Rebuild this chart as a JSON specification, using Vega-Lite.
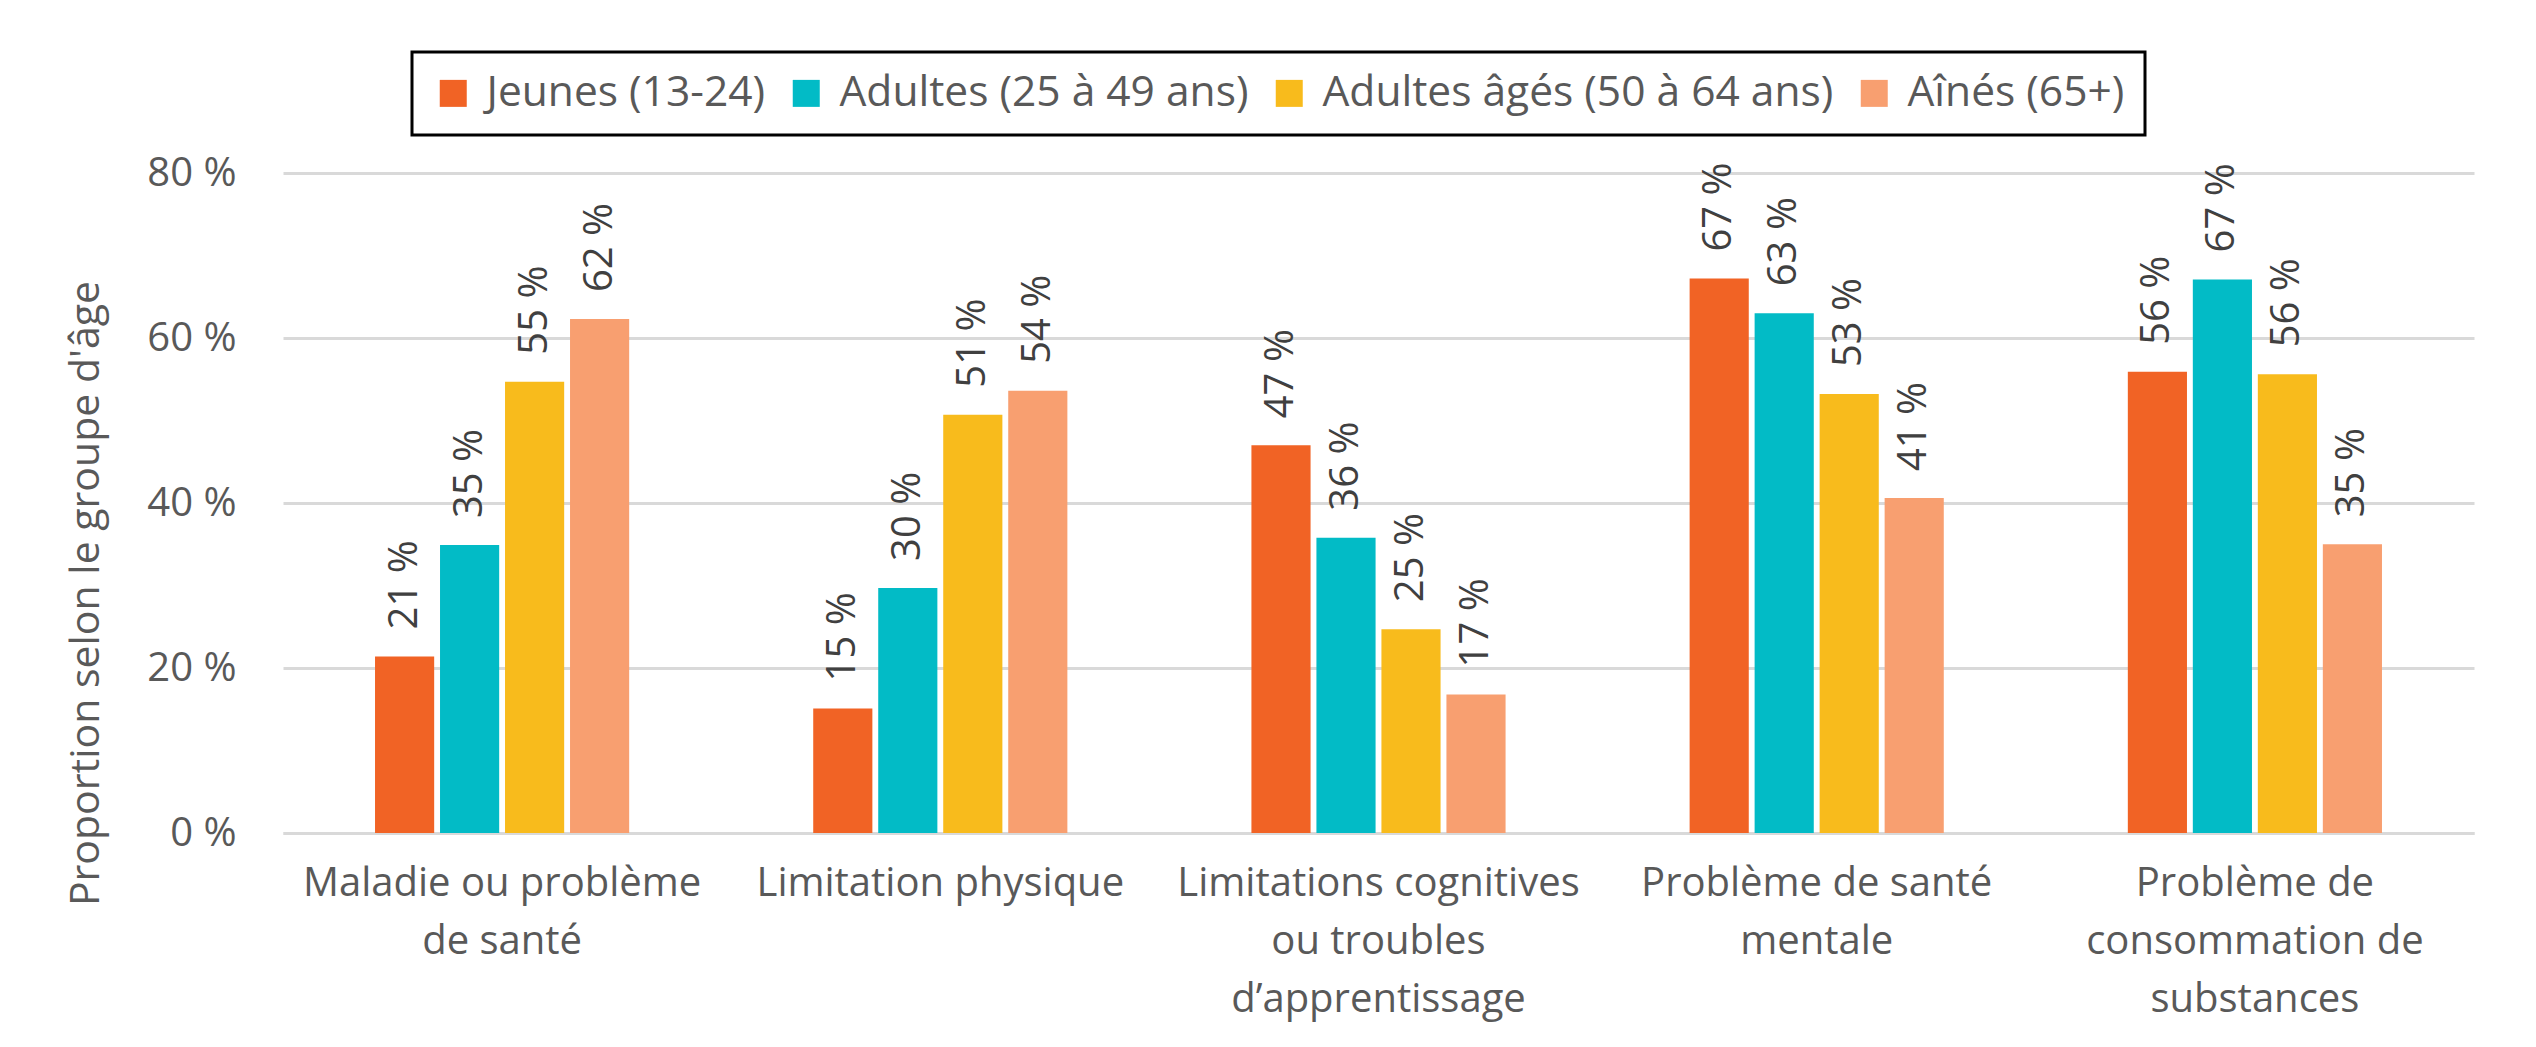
{
  "$schema": "https://vega.github.io/schema/vega-lite/v6.json",
  "autosize": "none",
  "width": 2191,
  "height": 660,
  "padding": {"left": 283, "top": 173, "right": 62, "bottom": 214},
  "background": "white",
  "data": {
    "values": [
      {"cat": "Maladie ou problème de santé", "groupe": "Jeunes (13-24)", "value": 21.4},
      {"cat": "Maladie ou problème de santé", "groupe": "Adultes (25 à 49 ans)", "value": 34.9},
      {"cat": "Maladie ou problème de santé", "groupe": "Adultes âgés (50 à 64 ans)", "value": 54.7},
      {"cat": "Maladie ou problème de santé", "groupe": "Aînés (65+)", "value": 62.3},
      {"cat": "Limitation physique", "groupe": "Jeunes (13-24)", "value": 15.1},
      {"cat": "Limitation physique", "groupe": "Adultes (25 à 49 ans)", "value": 29.7},
      {"cat": "Limitation physique", "groupe": "Adultes âgés (50 à 64 ans)", "value": 50.7},
      {"cat": "Limitation physique", "groupe": "Aînés (65+)", "value": 53.6},
      {"cat": "Limitations cognitives ou troubles d’apprentissage", "groupe": "Jeunes (13-24)", "value": 47.0},
      {"cat": "Limitations cognitives ou troubles d’apprentissage", "groupe": "Adultes (25 à 49 ans)", "value": 35.8},
      {"cat": "Limitations cognitives ou troubles d’apprentissage", "groupe": "Adultes âgés (50 à 64 ans)", "value": 24.7},
      {"cat": "Limitations cognitives ou troubles d’apprentissage", "groupe": "Aînés (65+)", "value": 16.8},
      {"cat": "Problème de santé mentale", "groupe": "Jeunes (13-24)", "value": 67.2},
      {"cat": "Problème de santé mentale", "groupe": "Adultes (25 à 49 ans)", "value": 63.0},
      {"cat": "Problème de santé mentale", "groupe": "Adultes âgés (50 à 64 ans)", "value": 53.2},
      {"cat": "Problème de santé mentale", "groupe": "Aînés (65+)", "value": 40.6},
      {"cat": "Problème de consommation de substances", "groupe": "Jeunes (13-24)", "value": 55.9},
      {"cat": "Problème de consommation de substances", "groupe": "Adultes (25 à 49 ans)", "value": 67.1},
      {"cat": "Problème de consommation de substances", "groupe": "Adultes âgés (50 à 64 ans)", "value": 55.6},
      {"cat": "Problème de consommation de substances", "groupe": "Aînés (65+)", "value": 35.0}
    ]
  },
  "transform": [
    {"calculate": "format(datum.value, '.0f') + ' %'", "as": "lbl"}
  ],
  "encoding": {
    "x": {
      "field": "cat",
      "type": "nominal",
      "sort": null,
      "scale": {"paddingInner": 0.42, "paddingOuter": 0.21},
      "axis": {
        "title": null,
        "labelAngle": 0,
        "labelFontSize": 40,
        "labelColor": "#595959",
        "labelLineHeight": 58,
        "labelPadding": 30,
        "labelBaseline": "top",
        "labelLimit": 800,
        "domainColor": "#d9d9d9",
        "domainWidth": 3,
        "ticks": false,
        "labelExpr": "datum.value == 'Maladie ou problème de santé' ? ['Maladie ou problème', 'de santé'] : datum.value == 'Limitations cognitives ou troubles d’apprentissage' ? ['Limitations cognitives', 'ou troubles', 'd’apprentissage'] : datum.value == 'Problème de santé mentale' ? ['Problème de santé', 'mentale'] : datum.value == 'Problème de consommation de substances' ? ['Problème de', 'consommation de', 'substances'] : datum.label"
      }
    },
    "xOffset": {
      "field": "groupe",
      "type": "nominal",
      "sort": ["Jeunes (13-24)", "Adultes (25 à 49 ans)", "Adultes âgés (50 à 64 ans)", "Aînés (65+)"],
      "scale": {"paddingInner": 0.09}
    },
    "y": {
      "field": "value",
      "type": "quantitative",
      "scale": {"domain": [0, 80]},
      "axis": {
        "title": "Proportion selon le groupe d'âge",
        "titleFontSize": 41,
        "titleFontWeight": "normal",
        "titleColor": "#595959",
        "titleAngle": 270,
        "titleX": -197,
        "titleY": 420,
        "titleAlign": "center",
        "titleBaseline": "middle",
        "values": [0, 20, 40, 60, 80],
        "labelExpr": "datum.value + ' %'",
        "labelFontSize": 40,
        "labelColor": "#595959",
        "labelPadding": 47,
        "grid": true,
        "gridColor": "#d9d9d9",
        "gridWidth": 3,
        "domain": false,
        "ticks": false
      }
    }
  },
  "layer": [
    {
      "mark": {"type": "bar"},
      "encoding": {
        "color": {
          "field": "groupe",
          "type": "nominal",
          "scale": {
            "domain": ["Jeunes (13-24)", "Adultes (25 à 49 ans)", "Adultes âgés (50 à 64 ans)", "Aînés (65+)"],
            "range": ["#F16325", "#02BBC6", "#F8BB1C", "#F89F70"]
          },
          "legend": {
            "title": null,
            "orient": "none",
            "legendX": 129,
            "legendY": -121,
            "direction": "horizontal",
            "labelFontSize": 42.5,
            "labelColor": "#595959",
            "labelLimit": 800,
            "symbolType": "square",
            "symbolSize": 729,
            "symbolStrokeWidth": 0,
            "labelOffset": 12,
            "columnPadding": 19,
            "padding": 20,
            "strokeColor": "black",
            "fillColor": "white"
          }
        }
      }
    },
    {
      "mark": {
        "type": "text",
        "angle": 270,
        "align": "left",
        "baseline": "middle",
        "dx": 27,
        "fontSize": 40,
        "color": "#404040"
      },
      "encoding": {
        "text": {"field": "lbl"}
      }
    }
  ],
  "config": {
    "font": "Open Sans",
    "view": {"stroke": null},
    "legend": {"strokeWidth": 3}
  }
}
